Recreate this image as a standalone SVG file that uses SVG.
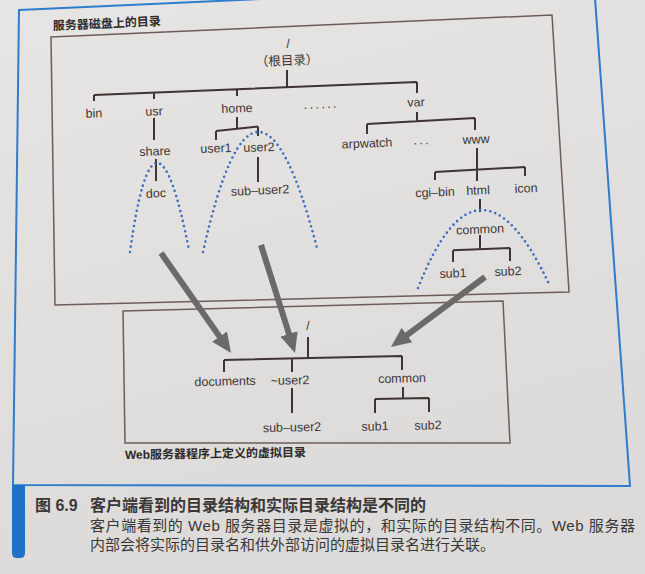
<svg xmlns="http://www.w3.org/2000/svg" width="645" height="574" viewBox="0 0 645 574">
<defs>
<linearGradient id="paper" x1="0" y1="0" x2="0.3" y2="1">
<stop offset="0" stop-color="#e6e5e3"/>
<stop offset="1" stop-color="#dcdbd9"/>
</linearGradient>
<marker id="head" viewBox="0 0 20 18" refX="6" refY="9" markerWidth="20" markerHeight="18" markerUnits="userSpaceOnUse" orient="auto">
<path d="M0,0 L20,9 L0,18 z" fill="#6c6a68"/>
</marker>
<style>
.lbl{font-family:"Liberation Sans","Noto Sans CJK SC",sans-serif;font-size:12.5px;fill:#3d3535;text-anchor:middle}
.cap{font-family:"Liberation Sans","Noto Sans CJK SC",sans-serif;fill:#3a3737}
.ttl{font-family:"Liberation Sans","Noto Sans CJK SC",sans-serif;font-size:12px;font-weight:bold;fill:#2e2a2a}
.ln{stroke:#3f3433;stroke-width:2;fill:none}
.box{stroke:#6e5c5a;stroke-width:1.5;fill:none}
.dot{stroke:#3a6cc0;stroke-width:2.6;fill:none;stroke-linecap:round;stroke-dasharray:0 5.2}
.arr{stroke:#6c6a68;stroke-width:6;fill:none;marker-end:url(#head)}
</style>
</defs>
<rect x="0" y="0" width="645" height="574" fill="url(#paper)"/>

<!-- outer figure frame and caption bar -->
<g id="frame">
<path d="M19,10 L594,-16 L630,486 L13,485 Z" fill="none" stroke="#2f7ccc" stroke-width="2"/>
<path d="M12,485 L25,485 L25,553 Q25,558 20,558 L17,558 Q12,558 12,553 Z" fill="#1f72c8"/>
</g>

<!-- server disk box -->
<g id="disk-box">
<path class="box" d="M51,37 L552,15 L569,292 L55,305 Z"/>
<text class="ttl" x="53" y="30" transform="rotate(-2.5 53 30)">服务器磁盘上的目录</text>
</g>

<!-- virtual directory box -->
<g id="virtual-box">
<path class="box" d="M123,311 L503,301 L510,443 L125,443 Z"/>
<text class="ttl" x="125" y="459" transform="rotate(-0.8 125 459)">Web服务器程序上定义的虚拟目录</text>
</g>

<!-- connectors -->
<g id="connectors">
<!-- upper tree -->
<path class="ln" d="M287,70 V87 M94,95 L417,82 M94,95 V101 M154,92.6 V99 M237,89.2 V96 M417,82 V93"/>
<path class="ln" d="M154,118 V140 M156,159 V181"/>
<path class="ln" d="M237,117 V128.5 M216,131 L258,126.5 M216,131 V140 M258,126.5 V136 M258,157 V182"/>
<path class="ln" d="M417,112 V121 M367,124 L475,118 M367,124 V134 M475,118 V130"/>
<path class="ln" d="M477,148 V181 M435,172 L525,167 M435,172 V180 M525,167 V176"/>
<path class="ln" d="M480,199 V212 M480,235 V249 M453,250.2 L510,248 M453,250.2 V262 M510,248 V261"/>
<!-- lower tree -->
<path class="ln" d="M308,337 V358 M224,360 L402,356 M224,360 V372 M292,358.5 V372 M402,356 V370"/>
<path class="ln" d="M292,388 V413 M403,387 V398.5 M375,399 L429,398 M375,399 V413 M429,398 V412"/>
<!-- dotted mapping arcs -->
<path class="dot" d="M130,252 Q154.5,75 189,250"/>
<path class="dot" d="M203,252 Q256,14 317,248"/>
<path class="dot" d="M418,288 Q478.5,134 549,284"/>
<!-- mapping arrows -->
<line class="arr" x1="161" y1="253" x2="223" y2="341.5"/>
<line class="arr" x1="261" y1="245" x2="290.8" y2="339.6"/>
<line class="arr" x1="485" y1="277" x2="402.2" y2="338.6"/>
</g>

<!-- upper tree nodes -->
<g id="root"><text class="lbl" x="288" y="48" font-size="14" transform="rotate(-2.3 288 43)">/</text>
<text class="lbl" x="287" y="65" font-size="12" transform="rotate(-2.3 287 61)">（根目录）</text></g>
<g id="bin"><text class="lbl" x="94" y="117.5" transform="rotate(-2.3 94 113)">bin</text></g>
<g id="usr"><text class="lbl" x="154" y="115.5" transform="rotate(-2.3 154 111)">usr</text></g>
<g id="home"><text class="lbl" x="237" y="112.5" transform="rotate(-2.3 237 108)">home</text></g>
<g id="more-root"><text class="lbl" x="321" y="111" letter-spacing="1.7" transform="rotate(-2.3 321 107)">······</text></g>
<g id="var"><text class="lbl" x="416" y="106.5" transform="rotate(-2.3 416 102)">var</text></g>
<g id="share"><text class="lbl" x="155" y="155.5" transform="rotate(-2.3 155 151)">share</text></g>
<g id="doc"><text class="lbl" x="156" y="197.5" transform="rotate(-2.3 156 193)">doc</text></g>
<g id="user1"><text class="lbl" x="216" y="152.5" transform="rotate(-2.3 216 148)">user1</text></g>
<g id="user2"><text class="lbl" x="259" y="151.5" transform="rotate(-2.3 259 147)">user2</text></g>
<g id="sub-user2"><text class="lbl" x="260" y="194.5" transform="rotate(-2.3 260 190)">sub–user2</text></g>
<g id="arpwatch"><text class="lbl" x="367" y="147.5" transform="rotate(-2.3 367 143)">arpwatch</text></g>
<g id="more-var"><text class="lbl" x="422" y="147" letter-spacing="1.7" transform="rotate(-2.3 422 143)">···</text></g>
<g id="www"><text class="lbl" x="476" y="143.5" transform="rotate(-2.3 476 139)">www</text></g>
<g id="cgi-bin"><text class="lbl" x="435" y="196.5" transform="rotate(-2.3 435 192)">cgi–bin</text></g>
<g id="html"><text class="lbl" x="478" y="194.5" transform="rotate(-2.3 478 190)">html</text></g>
<g id="icon"><text class="lbl" x="526" y="192.5" transform="rotate(-2.3 526 188)">icon</text></g>
<g id="common"><text class="lbl" x="480" y="233.5" transform="rotate(-2.3 480 229)">common</text></g>
<g id="sub1"><text class="lbl" x="453" y="277.5" transform="rotate(-2.3 453 273)">sub1</text></g>
<g id="sub2"><text class="lbl" x="508" y="275.5" transform="rotate(-2.3 508 271)">sub2</text></g>

<!-- lower tree nodes -->
<g id="v-root"><text class="lbl" x="308" y="330" font-size="14" transform="rotate(-1.3 308 325)">/</text></g>
<g id="v-documents"><text class="lbl" x="225" y="385.5" transform="rotate(-1.3 225 381)">documents</text></g>
<g id="v-user2"><text class="lbl" x="290" y="384.5" transform="rotate(-1.3 290 380)">~user2</text></g>
<g id="v-common"><text class="lbl" x="402" y="382.5" transform="rotate(-1.3 402 378)">common</text></g>
<g id="v-sub-user2"><text class="lbl" x="292" y="431.5" transform="rotate(-1.3 292 427)">sub–user2</text></g>
<g id="v-sub1"><text class="lbl" x="375" y="430.5" transform="rotate(-1.3 375 426)">sub1</text></g>
<g id="v-sub2"><text class="lbl" x="428" y="429.5" transform="rotate(-1.3 428 425)">sub2</text></g>

<!-- caption -->
<g id="caption">
<text class="cap" x="35" y="511" font-size="16" font-weight="bold">图 6.9</text>
<text class="cap" x="90" y="511" font-size="16" font-weight="bold">客户端看到的目录结构和实际目录结构是不同的</text>
<text class="cap" x="90" y="531" font-size="15" textLength="545" lengthAdjust="spacing">客户端看到的 Web 服务器目录是虚拟的，和实际的目录结构不同。Web 服务器</text>
<text class="cap" x="90" y="550" font-size="15">内部会将实际的目录名和供外部访问的虚拟目录名进行关联。</text>
</g>
</svg>
